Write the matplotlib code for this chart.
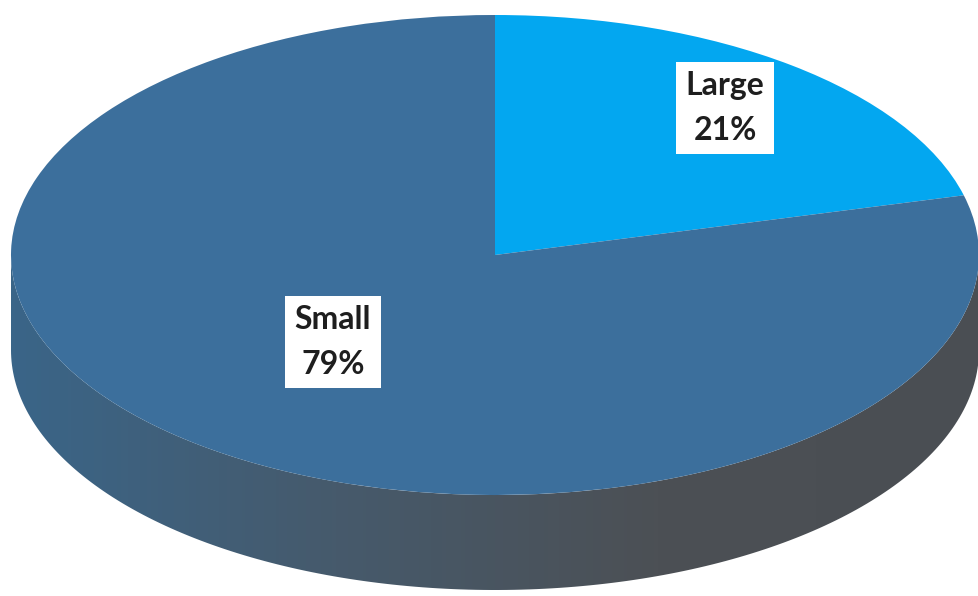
import numpy as np
import matplotlib
matplotlib.use('Agg')
import matplotlib.pyplot as plt
from matplotlib.transforms import Affine2D
from matplotlib.patches import Polygon
from matplotlib.colors import LinearSegmentedColormap

# data
labels = ["Large", "Small"]
shares = [21, 79]
colors = ["#03a7f0", "#3c6f9c"]

# geometry of the 3d-looking disc (pixel units, y up)
cx, cy = 495, 341
rx, ry = 484, 240
depth = 95

fig = plt.figure(figsize=(9.79, 5.96), dpi=100)
ax = fig.add_axes([0, 0, 1, 1])

# side wall (front half of the disc)
t = np.linspace(np.pi, 2 * np.pi, 200)
top_x = cx + rx * np.cos(t)
top_y = cy + ry * np.sin(t)
side_pts = np.vstack([np.column_stack([top_x, top_y]),
                      np.column_stack([top_x[::-1], top_y[::-1] - depth])])
side = Polygon(side_pts, closed=True, facecolor="none", edgecolor="none")
ax.add_patch(side)
side_cmap = LinearSegmentedColormap.from_list("side", ["#3a6588", "#465a6c", "#4c5055", "#4a4e53"])
grad = np.linspace(0, 1, 256).reshape(1, -1)
im = ax.imshow(grad, cmap=side_cmap, extent=[cx - rx, cx + rx, cy - ry - depth, cy],
               aspect="auto", zorder=1)
im.set_clip_path(side)

# top face
wedges, _ = ax.pie(shares, colors=colors, startangle=90, counterclock=False,
                   radius=rx, center=(0, 0), wedgeprops=dict(linewidth=0))
squash = Affine2D().scale(1, ry / rx).translate(cx, cy) + ax.transData
for w in wedges:
    w.set_transform(squash)
    w.set_zorder(2)

# labels
label_pos = [(725, 596 - 108), (333, 596 - 342)]
for lab, val, (lx, ly) in zip(labels, shares, label_pos):
    ax.text(lx, ly, "{}\n{}%".format(lab, val), ha="center", va="center",
            fontsize=23, family="Lato", weight="bold", color="#1e1e1e",
            linespacing=1.65, zorder=3,
            bbox=dict(boxstyle="square,pad=0.3", facecolor="white", edgecolor="none"))

ax.set_aspect("auto")
ax.set_xlim(0, 979)
ax.set_ylim(0, 596)
ax.axis("off")

fig.savefig("out.png", dpi=100)
